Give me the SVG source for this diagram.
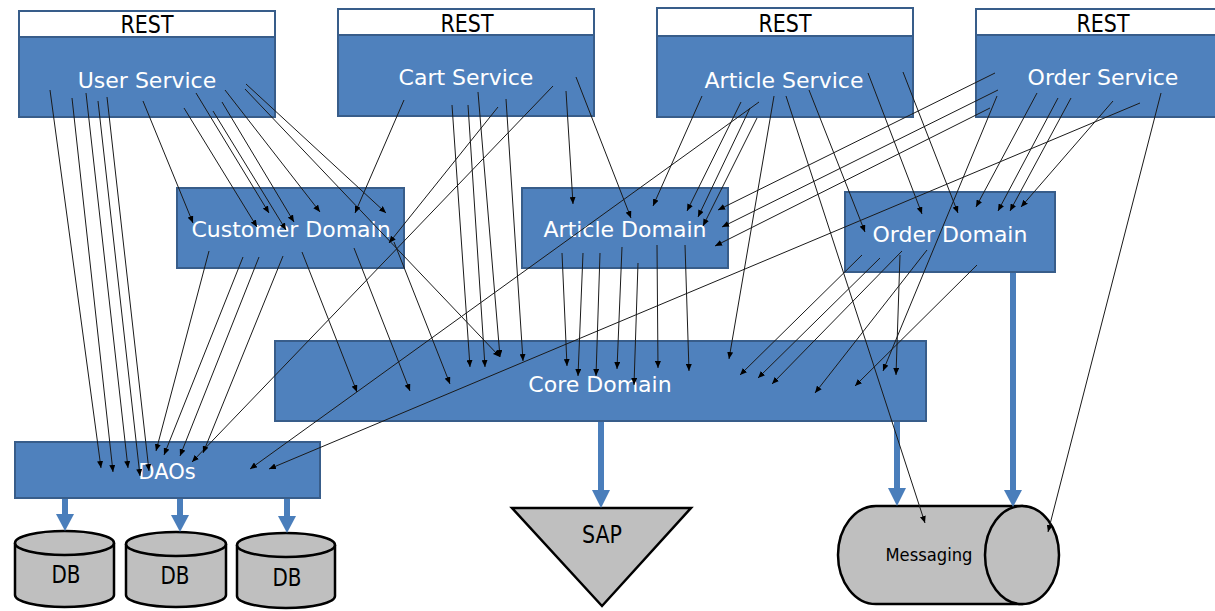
<svg xmlns="http://www.w3.org/2000/svg" width="1215" height="611" viewBox="0 0 1215 611">
<defs>
<style>
.box{fill:#4F81BD;stroke:#385D8A;stroke-width:2}
.rest{fill:#FFFFFF;stroke:#385D8A;stroke-width:2}
.wt{fill:#FFFFFF;font-family:"DejaVu Sans","Liberation Sans",sans-serif;font-size:22px;text-anchor:middle}
.bt{fill:#000000;font-family:"DejaVu Sans","Liberation Sans",sans-serif;font-size:24px;text-anchor:middle}
.gray{fill:#BFBFBF;stroke:#000000;stroke-width:2.5}
.ln{stroke:#1a1a1a;stroke-width:1;fill:none;marker-end:url(#ah)}
.thick{stroke:#4A7EBB;stroke-width:6;fill:none}
.head{fill:#4A7EBB}
</style>
<marker id="ah" markerUnits="userSpaceOnUse" markerWidth="7" markerHeight="6" refX="7" refY="3" orient="auto">
<path d="M0,0 L7,3 L0,6 z" fill="#000"/>
</marker>
</defs>
<rect width="1215" height="611" fill="#FFFFFF"/>

<g id="user-service">
<rect class="rest" x="19" y="11" width="256" height="26"/>
<text class="bt" x="147" y="33" textLength="53" lengthAdjust="spacingAndGlyphs">REST</text>
<rect class="box" x="19" y="37" width="256" height="80"/>
<text class="wt" x="147" y="88">User Service</text>
</g>
<g id="cart-service">
<rect class="rest" x="338" y="9" width="256" height="26"/>
<text class="bt" x="467" y="32" textLength="53" lengthAdjust="spacingAndGlyphs">REST</text>
<rect class="box" x="338" y="35" width="256" height="81"/>
<text class="wt" x="466" y="85">Cart Service</text>
</g>
<g id="article-service">
<rect class="rest" x="657" y="8" width="256" height="28"/>
<text class="bt" x="785" y="32" textLength="53" lengthAdjust="spacingAndGlyphs">REST</text>
<rect class="box" x="657" y="36" width="256" height="81"/>
<text class="wt" x="784" y="88">Article Service</text>
</g>
<g id="order-service">
<rect class="rest" x="976" y="9" width="245" height="26"/>
<text class="bt" x="1103" y="32" textLength="53" lengthAdjust="spacingAndGlyphs">REST</text>
<rect class="box" x="976" y="35" width="245" height="82"/>
<text class="wt" x="1103" y="85">Order Service</text>
</g>
<g id="customer-domain">
<rect class="box" x="177" y="188" width="227" height="80"/>
<text class="wt" x="291" y="237">Customer Domain</text>
</g>
<g id="article-domain">
<rect class="box" x="522" y="188" width="206" height="80"/>
<text class="wt" x="625" y="237">Article Domain</text>
</g>
<g id="order-domain">
<rect class="box" x="845" y="192" width="210" height="80"/>
<text class="wt" x="950" y="242">Order Domain</text>
</g>
<g id="core-domain">
<rect class="box" x="275" y="341" width="651" height="80"/>
<text class="wt" x="600" y="392">Core Domain</text>
</g>
<g id="daos">
<rect class="box" x="15" y="442" width="305" height="56"/>
<text class="wt" x="167" y="479" style="font-size:21px">DAOs</text>
</g>
<g id="db1">
<path class="gray" d="M15,543 L15,595 A49.5,12 0 0 0 114,595 L114,543"/>
<ellipse class="gray" cx="64.5" cy="543" rx="49.5" ry="12"/>
<text class="bt" x="66" y="583" textLength="29" lengthAdjust="spacingAndGlyphs">DB</text>
</g>
<g id="db2">
<path class="gray" d="M126,544 L126,595 A50,12 0 0 0 226,595 L226,544"/>
<ellipse class="gray" cx="176" cy="544" rx="50" ry="12"/>
<text class="bt" x="175" y="584" textLength="29" lengthAdjust="spacingAndGlyphs">DB</text>
</g>
<g id="db3">
<path class="gray" d="M237,545 L237,596 A49,12 0 0 0 335,596 L335,545"/>
<ellipse class="gray" cx="286" cy="545" rx="49" ry="12"/>
<text class="bt" x="287" y="586" textLength="29" lengthAdjust="spacingAndGlyphs">DB</text>
</g>
<g id="sap">
<polygon class="gray" points="512,508 691,508 602,606"/>
<text class="bt" x="602" y="543" textLength="40" lengthAdjust="spacingAndGlyphs">SAP</text>
</g>
<g id="messaging">
<path class="gray" d="M1022,506 L876,506 A38,49 0 0 0 876,604 L1022,604 Z"/>
<ellipse class="gray" cx="1022" cy="555" rx="37" ry="49"/>
<text class="bt" x="929" y="561" style="font-size:18px" textLength="87" lengthAdjust="spacingAndGlyphs">Messaging</text>
</g>

<g id="thick-connectors">
<line class="thick" x1="65" y1="499" x2="65" y2="515"/>
<polygon class="head" points="56,514 74,514 65,531"/>
<line class="thick" x1="180" y1="499" x2="180" y2="516"/>
<polygon class="head" points="171,515 189,515 180,532"/>
<line class="thick" x1="287" y1="499" x2="287" y2="517"/>
<polygon class="head" points="278,516 296,516 287,533"/>
<line class="thick" x1="601" y1="422" x2="601" y2="491"/>
<polygon class="head" points="592,490 610,490 601,508"/>
<line class="thick" x1="897" y1="422" x2="897" y2="489"/>
<polygon class="head" points="888,488 906,488 897,506"/>
<line class="thick" x1="1013" y1="273" x2="1013" y2="491"/>
<polygon class="head" points="1004,490 1022,490 1013,507"/>
</g>

<g id="connectors">
<line class="ln" x1="50" y1="90" x2="101" y2="468"/>
<line class="ln" x1="72" y1="98" x2="113" y2="472"/>
<line class="ln" x1="86" y1="93" x2="128" y2="468"/>
<line class="ln" x1="98" y1="101" x2="140" y2="476"/>
<line class="ln" x1="107" y1="97" x2="149" y2="471"/>
<line class="ln" x1="143" y1="101" x2="193" y2="223"/>
<line class="ln" x1="184" y1="108" x2="257" y2="227"/>
<line class="ln" x1="196" y1="93" x2="269" y2="213"/>
<line class="ln" x1="213" y1="111" x2="286" y2="230"/>
<line class="ln" x1="222" y1="102" x2="294" y2="222"/>
<line class="ln" x1="225" y1="90" x2="320" y2="212"/>
<line class="ln" x1="246" y1="84" x2="386" y2="213"/>
<line class="ln" x1="245" y1="89" x2="500" y2="357"/>

<line class="ln" x1="404" y1="100" x2="355" y2="213"/>
<line class="ln" x1="498" y1="107" x2="389" y2="243"/>
<line class="ln" x1="553" y1="86" x2="192" y2="462"/>
<line class="ln" x1="452" y1="105" x2="470" y2="367"/>
<line class="ln" x1="468" y1="105" x2="485" y2="367"/>
<line class="ln" x1="478" y1="92" x2="500" y2="357"/>
<line class="ln" x1="506" y1="99" x2="523" y2="361"/>
<line class="ln" x1="566" y1="91" x2="573" y2="204"/>
<line class="ln" x1="576" y1="77" x2="631" y2="218"/>

<line class="ln" x1="702" y1="96" x2="653" y2="206"/>
<line class="ln" x1="741" y1="102" x2="687" y2="211"/>
<line class="ln" x1="750" y1="108" x2="698" y2="217"/>
<line class="ln" x1="757" y1="118" x2="703" y2="226"/>
<line class="ln" x1="759" y1="102" x2="250" y2="469"/>
<line class="ln" x1="774" y1="96" x2="729" y2="359"/>
<line class="ln" x1="786" y1="96" x2="925" y2="523"/>
<line class="ln" x1="809" y1="90" x2="865" y2="232"/>
<line class="ln" x1="868" y1="73" x2="922" y2="214"/>
<line class="ln" x1="903" y1="72" x2="958" y2="213"/>

<line class="ln" x1="995" y1="73" x2="718" y2="210"/>
<line class="ln" x1="998" y1="90" x2="722" y2="227"/>
<line class="ln" x1="990" y1="108" x2="715" y2="246"/>
<line class="ln" x1="997" y1="96" x2="883" y2="371"/>
<line class="ln" x1="1037" y1="93" x2="976" y2="207"/>
<line class="ln" x1="1058" y1="98" x2="998" y2="211"/>
<line class="ln" x1="1071" y1="98" x2="1010" y2="211"/>
<line class="ln" x1="1113" y1="101" x2="1021" y2="207"/>
<line class="ln" x1="1140" y1="103" x2="269" y2="469"/>
<line class="ln" x1="1161" y1="93" x2="1048" y2="532"/>

<line class="ln" x1="209" y1="251" x2="156" y2="451"/>
<line class="ln" x1="243" y1="257" x2="164" y2="455"/>
<line class="ln" x1="259" y1="257" x2="180" y2="456"/>
<line class="ln" x1="283" y1="256" x2="203" y2="453"/>
<line class="ln" x1="302" y1="252" x2="357" y2="392"/>
<line class="ln" x1="354" y1="248" x2="410" y2="391"/>
<line class="ln" x1="394" y1="242" x2="450" y2="384"/>

<line class="ln" x1="562" y1="253" x2="567" y2="366"/>
<line class="ln" x1="583" y1="253" x2="578" y2="376"/>
<line class="ln" x1="600" y1="253" x2="596" y2="376"/>
<line class="ln" x1="622" y1="247" x2="617" y2="369"/>
<line class="ln" x1="638" y1="263" x2="634" y2="385"/>
<line class="ln" x1="657" y1="245" x2="658" y2="368"/>
<line class="ln" x1="685" y1="245" x2="689" y2="371"/>

<line class="ln" x1="862" y1="255" x2="740" y2="375"/>
<line class="ln" x1="880" y1="258" x2="758" y2="378"/>
<line class="ln" x1="902" y1="251" x2="772" y2="384"/>
<line class="ln" x1="900" y1="255" x2="896" y2="375"/>
<line class="ln" x1="927" y1="250" x2="815" y2="393"/>
<line class="ln" x1="977" y1="265" x2="855" y2="386"/>
</g>
</svg>
